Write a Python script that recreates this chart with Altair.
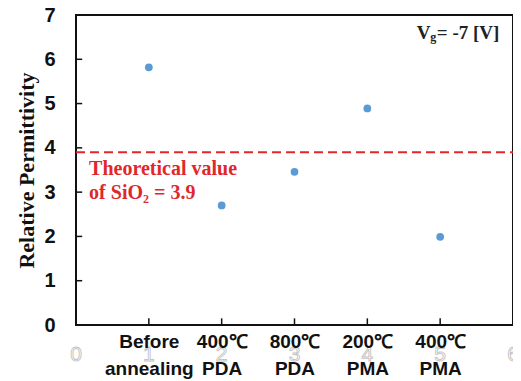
import altair as alt
import pandas as pd

# ---- data ----
positions = [1, 2, 3, 4, 5]
conditions = [["Before", "annealing"], ["400℃", "PDA"], ["800℃", "PDA"],
              ["200℃", "PMA"], ["400℃", "PMA"]]
permittivity = [5.82, 2.70, 3.46, 4.89, 1.99]
theoretical = 3.9
y_ticks = [0, 1, 2, 3, 4, 5, 6, 7]
x_digits = [0, 1, 2, 3, 4, 5, 6]

pts = pd.DataFrame({"x": positions, "y": permittivity})
ref = pd.DataFrame({"x": [0], "x2": [6], "y": [theoretical]})
xt = pd.DataFrame({"x": positions, "y": [0] * 5, "y2": [0.15] * 5})
yt = pd.DataFrame({"y": y_ticks[1:-1], "x": [0] * 6, "x2": [0.085] * 6})
dig = pd.DataFrame({"x": x_digits, "y": [-0.675] * len(x_digits), "t": [str(d) for d in x_digits]})

# label expression (multi-line category labels)
expr = "''"
for p, c in reversed(list(zip(positions, conditions))):
    expr = f"datum.value == {p} ? ['{c[0]}', '{c[1]}'] : " + expr

xs = alt.Scale(domain=[0, 6], nice=False, zero=False)
ys = alt.Scale(domain=[0, 7], nice=False)

x_axis = alt.Axis(values=positions, labelExpr=expr, title=None, grid=False, domain=False,
                  ticks=False, labelPadding=7, labelFontSize=19, labelFont="Liberation Sans",
                  labelFontWeight="bold", labelColor="#111", labelLineHeight=27,
                  labelBaseline="top", labelFlush=False, labelOverlap=False, zindex=1)
y_axis = alt.Axis(values=y_ticks, title="Relative Permittivity", grid=False, domain=False,
                  ticks=False, labelPadding=21, labelFontSize=20, labelFont="Liberation Sans",
                  labelFontWeight="bold", labelColor="#111", titleFont="Liberation Serif",
                  titleFontSize=22, titleFontWeight="bold", titleColor="#111", titlePadding=5,
                  zindex=1)

base_pts = alt.Chart(pts).mark_circle(size=60, color="#5b9bd5", opacity=1).encode(
    x=alt.X("x:Q", scale=xs, axis=x_axis),
    y=alt.Y("y:Q", scale=ys, axis=y_axis),
)

digits = alt.Chart(dig).mark_text(font="Liberation Sans", fontSize=21, fill="#ffffff",
                                  stroke="#c4c4c4", strokeWidth=0.9).encode(
    x=alt.X("x:Q", scale=xs), y=alt.Y("y:Q", scale=ys), text="t:N")

dash = alt.Chart(ref).mark_rule(color="#e0282c", strokeWidth=2, strokeDash=[9, 5]).encode(
    x=alt.X("x:Q", scale=xs), x2="x2:Q", y=alt.Y("y:Q", scale=ys))

xticks = alt.Chart(xt).mark_rule(color="#111", strokeWidth=1.5).encode(
    x=alt.X("x:Q", scale=xs), y=alt.Y("y:Q", scale=ys), y2="y2:Q")
yticks = alt.Chart(yt).mark_rule(color="#111", strokeWidth=1.5).encode(
    y=alt.Y("y:Q", scale=ys), x=alt.X("x:Q", scale=xs), x2="x2:Q")

ann = pd.DataFrame({"x": [0.18, 0.18], "y": [3.53, 2.99],
                    "t": ["Theoretical value", "of SiO₂ = 3.9"]})
theo_text = alt.Chart(ann).mark_text(align="left", baseline="middle", font="Liberation Serif",
                                     fontSize=20, fontWeight="bold", color="#e0282c").encode(
    x=alt.X("x:Q", scale=xs), y=alt.Y("y:Q", scale=ys), text="t:N")

vg = pd.DataFrame({"x": [4.68], "y": [6.6]})
vg_big = alt.Chart(vg).mark_text(align="left", baseline="middle", font="Liberation Serif",
                                 fontSize=19, fontWeight="bold", color="#222", text="V").encode(
    x=alt.X("x:Q", scale=xs), y=alt.Y("y:Q", scale=ys))
vg_sub = alt.Chart(vg).mark_text(align="left", baseline="middle", font="Liberation Serif",
                                 fontSize=12, fontWeight="bold", color="#222", text="g",
                                 dx=13.5, dy=4).encode(
    x=alt.X("x:Q", scale=xs), y=alt.Y("y:Q", scale=ys))
vg_rest = alt.Chart(vg).mark_text(align="left", baseline="middle", font="Liberation Serif",
                                  fontSize=19, fontWeight="bold", color="#222", text="= -7 [V]",
                                  dx=20).encode(
    x=alt.X("x:Q", scale=xs), y=alt.Y("y:Q", scale=ys))

chart = alt.layer(digits, dash, xticks, yticks, base_pts, theo_text, vg_big, vg_sub, vg_rest).properties(
    width=437, height=310,
    autosize=alt.AutoSizeParams(type="none"),
    padding={"left": 68, "top": 7, "right": 0, "bottom": 56},
    background="white",
).configure_view(stroke="#111", strokeWidth=2)

chart.save("out.html", embed_options={"renderer": "svg", "actions": False})
